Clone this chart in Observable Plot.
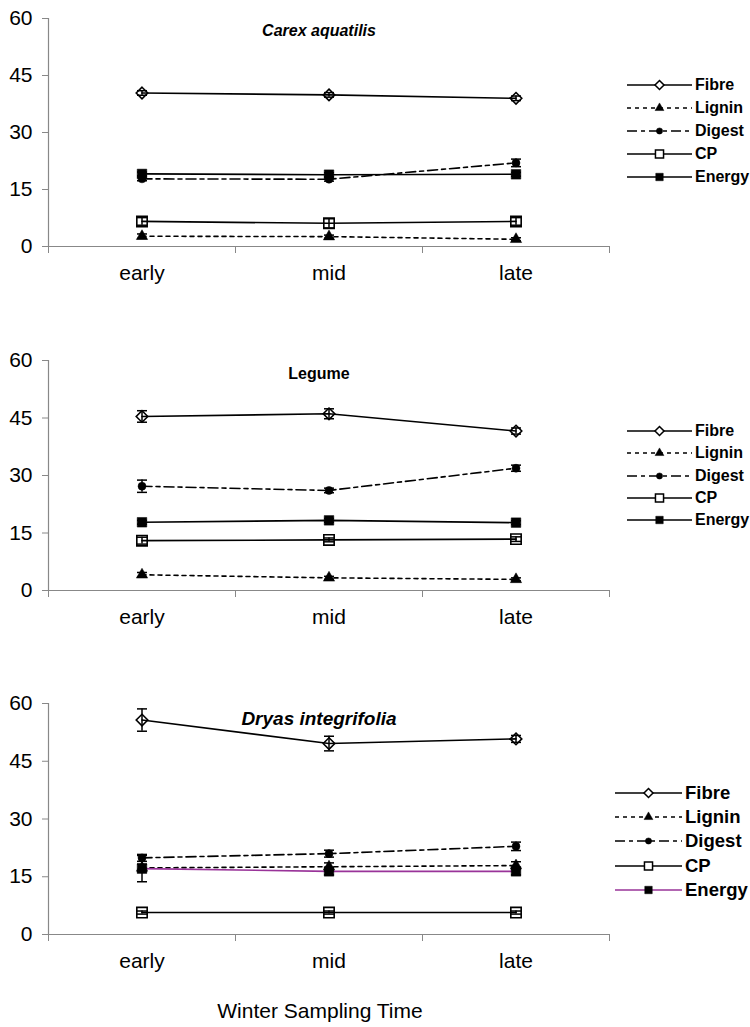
<!DOCTYPE html>
<html><head><meta charset="utf-8">
<script src="https://cdn.jsdelivr.net/npm/d3@7"></script>
<script src="https://cdn.jsdelivr.net/npm/@observablehq/plot@0.6"></script>
<style>
body{margin:0;background:#fff;}
#wrap{position:relative;width:750px;height:1027px;overflow:hidden;font-family:"Liberation Sans",Arial,sans-serif;color:#000;background:#fff;}
.panel{position:absolute;left:0;}
.row{position:absolute;display:flex;align-items:center;white-space:nowrap;font-weight:bold;height:22px;}
.row svg{flex:none;margin-right:3px;}
#xtitle{position:absolute;left:0;width:640px;text-align:center;font-size:21px;}
</style></head><body><div id="wrap"></div>
<script>
// ---- data ----
const times = ["early", "mid", "late"];
const seriesNames = ["Fibre", "Lignin", "Digest", "CP", "Energy"];
const yTicks = [0, 15, 30, 45, 60];
const xBoundaries = [-0.5, 0.5, 1.5, 2.5];
const titles = ["Carex aquatilis", "Legume", "Dryas integrifolia"];
const xAxisTitle = "Winter Sampling Time";

// means per series (rows: Fibre, Lignin, Digest, CP, Energy), columns: early, mid, late
const carexMeans  = [[40.4, 39.9, 39.0], [2.7, 2.6, 1.9], [17.8, 17.7, 22.0], [6.6, 6.1, 6.6], [19.1, 18.9, 19.0]];
const carexErrors = [[0.6, 0.6, 0.6], [0.6, 0.4, 0.4], [0.5, 0.5, 1.0], [1.0, 1.2, 1.0], [0.5, 0.5, 0.5]];
const legumeMeans  = [[45.4, 46.1, 41.6], [4.1, 3.3, 2.9], [27.2, 26.1, 31.9], [13.0, 13.2, 13.4], [17.8, 18.3, 17.7]];
const legumeErrors = [[1.5, 1.3, 0.8], [0.6, 0.4, 0.4], [1.6, 0.6, 0.8], [0.9, 0.5, 0.6], [0.5, 0.5, 0.5]];
const dryasMeans  = [[55.7, 49.6, 50.8], [17.3, 17.6, 17.9], [19.9, 21.0, 22.9], [5.7, 5.7, 5.7], [17.1, 16.4, 16.4]];
const dryasErrors = [[2.9, 1.9, 0.9], [1.0, 1.0, 1.0], [0.9, 0.9, 1.1], [0.4, 0.4, 0.4], [3.4, 0.9, 0.9]];

// ---- styles ----
const seriesStyle = {
  Fibre:  {symbol: "diamond2", d3sym: d3.symbolDiamond2, open: true,  r: 5.2, dash: null},
  Lignin: {symbol: "triangle", d3sym: d3.symbolTriangle, open: false, r: 4.2, dash: "4,4"},
  Digest: {symbol: "circle",   d3sym: d3.symbolCircle,   open: false, r: 4.0, dash: "10,4,4,4"},
  CP:     {symbol: "square2",  d3sym: d3.symbolSquare2,  open: true,  r: 6.6, dash: null},
  Energy: {symbol: "square",   d3sym: d3.symbolSquare,   open: false, r: 5.4, dash: null}
};
const capSymbol = {draw(ctx, size) { const w = Math.sqrt(size / Math.PI); ctx.moveTo(-w, 0); ctx.lineTo(w, 0); }};

const panels = [
  {title: titles[0], italic: true,  titleSize: 16, means: carexMeans,  errs: carexErrors,  top: 0,   frameH: 228, titleDy: 12, legendX: 627, legendTop: 85,  legendStep: 23,   legendFont: 16,   legendLine: 65, energyColor: "#000"},
  {title: titles[1], italic: false, titleSize: 16, means: legumeMeans, errs: legumeErrors, top: 342, frameH: 230, titleDy: 13, legendX: 627, legendTop: 431, legendStep: 22.3, legendFont: 16,   legendLine: 65, energyColor: "#000"},
  {title: titles[2], italic: true,  titleSize: 19, means: dryasMeans,  errs: dryasErrors,  top: 685, frameH: 231, titleDy: 15, legendX: 615, legendTop: 793, legendStep: 24.2, legendFont: 18.5, legendLine: 67, energyColor: "#993399"}
];

const wrap = document.getElementById("wrap");
const marginTop = 18, marginBottom = 50;

for (const p of panels) {
  const rows = [];
  seriesNames.forEach((s, si) => times.forEach((t, i) => rows.push({series: s, i, time: t, mean: p.means[si][i], err: p.errs[si][i]})));
  const colorOf = s => s === "Energy" ? p.energyColor : "#000";

  const marks = [
    Plot.axisY({ticks: yTicks, tickSize: 6, tickPadding: 10, stroke: "#888", fill: "#000", label: null, fontSize: 21}),
    Plot.axisX({ticks: xBoundaries, tickSize: 7, tickFormat: () => "", stroke: "#888", label: null}),
    Plot.axisX({ticks: [0, 1, 2], tickSize: 0, tickPadding: 19, tickFormat: i => times[i], fill: "#000", label: null, fontSize: 21}),
    Plot.ruleX([-0.5], {stroke: "#888", strokeWidth: 1.2}),
    Plot.ruleY([0], {stroke: "#888", strokeWidth: 1.2})
  ];
  for (const s of seriesNames) {
    const st = seriesStyle[s];
    const data = rows.filter(d => d.series === s);
    marks.push(Plot.line(data, {x: "i", y: "mean", stroke: colorOf(s), strokeWidth: 1.6, strokeDasharray: st.dash}));
  }
  marks.push(Plot.ruleX(rows, {x: "i", y1: d => d.mean - d.err, y2: d => d.mean + d.err, stroke: "#000", strokeWidth: 1.5}));
  marks.push(Plot.dot(rows, {x: "i", y: d => d.mean - d.err, symbol: capSymbol, r: 5, stroke: "#000", strokeWidth: 1.5, fill: "none"}));
  marks.push(Plot.dot(rows, {x: "i", y: d => d.mean + d.err, symbol: capSymbol, r: 5, stroke: "#000", strokeWidth: 1.5, fill: "none"}));
  for (const s of seriesNames) {
    const st = seriesStyle[s];
    const data = rows.filter(d => d.series === s);
    marks.push(Plot.dot(data, {x: "i", y: "mean", symbol: st.symbol, r: st.r,
      fill: st.open ? "none" : "#000", stroke: "#000", strokeWidth: st.open ? 1.6 : 0.5}));
  }
  marks.push(Plot.text([p.title], {frameAnchor: "top", lineAnchor: "middle", dy: p.titleDy, dx: -10, text: d => d,
    fontWeight: "bold", fontStyle: p.italic ? "italic" : "normal", fontSize: p.titleSize, fill: "#000"}));

  const chart = Plot.plot({
    width: 750,
    height: marginTop + p.frameH + marginBottom,
    marginLeft: 48, marginRight: 141, marginTop, marginBottom,
    x: {domain: [-0.5, 2.5], axis: null},
    y: {domain: [0, 60], axis: null},
    style: {fontFamily: "'Liberation Sans', Arial, sans-serif", fontSize: "21px", background: "transparent", color: "#000"},
    marks
  });
  const div = document.createElement("div");
  div.className = "panel";
  div.style.top = p.top + "px";
  div.appendChild(chart);
  wrap.appendChild(div);

  // legend
  seriesNames.forEach((s, k) => {
    const st = seriesStyle[s];
    const row = document.createElement("div");
    row.className = "row";
    row.style.left = p.legendX + "px";
    row.style.top = (p.legendTop + k * p.legendStep - 11) + "px";
    row.style.fontSize = p.legendFont + "px";
    const W = p.legendLine;
    const svg = d3.create("svg").attr("width", W).attr("height", 16);
    svg.append("line").attr("x1", 0).attr("x2", W).attr("y1", 8).attr("y2", 8)
      .attr("stroke", colorOf(s)).attr("stroke-width", 1.6).attr("stroke-dasharray", st.dash);
    const r = st.r * 0.78;
    svg.append("path").attr("transform", `translate(${W / 2},8)`)
      .attr("d", d3.symbol(st.d3sym, Math.PI * r * r)())
      .attr("fill", st.open ? "#fff" : "#000").attr("stroke", "#000").attr("stroke-width", st.open ? 1.5 : 0.5);
    row.appendChild(svg.node());
    const label = document.createElement("span");
    label.textContent = s;
    row.appendChild(label);
    wrap.appendChild(row);
  });
}

const xt = document.createElement("div");
xt.id = "xtitle";
xt.style.top = "999px";
xt.textContent = xAxisTitle;
wrap.appendChild(xt);
</script></body></html>
